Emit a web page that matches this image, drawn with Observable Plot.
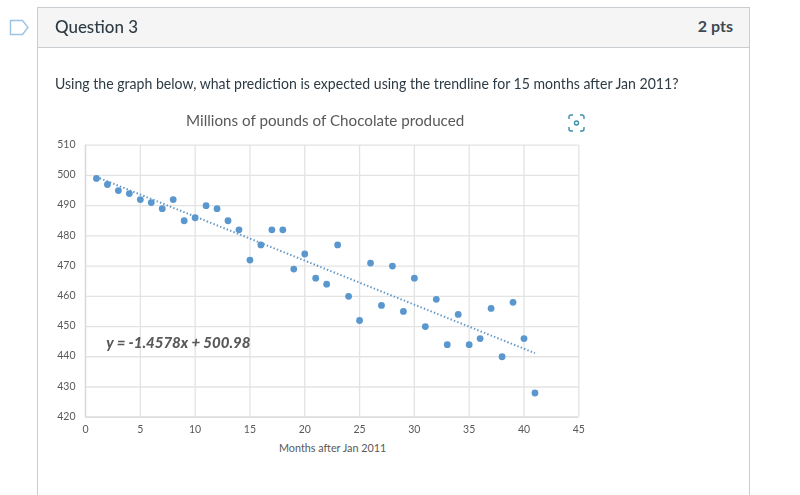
<!DOCTYPE html>
<html><head><meta charset="utf-8">
<script src="https://cdn.jsdelivr.net/npm/d3@7"></script>
<script src="https://cdn.jsdelivr.net/npm/@observablehq/plot@0.6"></script>
<style>
html,body{margin:0;padding:0;background:#fff;overflow:hidden}
body{width:800px;height:495px;position:relative;font-family:Lato,sans-serif;color:#2d3b45}
.abs{position:absolute;white-space:nowrap}
.sq{transform-origin:0 50%}
#card{left:37px;top:7px;width:713px;height:488px;border:1px solid #c7cdd1;border-bottom:none;box-sizing:border-box}
#head{left:38px;top:8px;width:711px;height:39px;background:#f5f5f5;border-bottom:1px solid #c7cdd1}
#chart{left:49px;top:129.7px;filter:blur(0.3px)}
#chart svg{display:block;overflow:visible}
</style></head><body>
<svg class="abs" style="left:9px;top:19px" width="21" height="17" viewBox="0 0 21 17"><path d="M1.5 1.5H13.5L19 8.5L13.5 15.5H1.5Z" fill="none" stroke="#9cc3e3" stroke-width="1.4"/></svg>
<div class="abs" id="card"></div>
<div class="abs" id="head"></div>
<div class="abs sq" id="q" style="left:55px;top:15px;font-size:18px;line-height:22px;font-weight:500;color:#2d3b45;transform:scaleX(.94)">Question 3</div>
<div class="abs" id="p" style="right:67px;top:15px;font-size:16px;line-height:22px;font-weight:700;color:#3d4a54">2 pts</div>
<div class="abs sq" id="t" style="left:55px;top:73px;font-size:15.2px;line-height:20px;color:#2d3b45;transform:scaleX(.927)">Using the graph below, what prediction is expected using the trendline for 15 months after Jan 2011?</div>
<div class="abs sq" id="ti" style="left:186px;top:110px;font-size:16px;line-height:20px;color:#595959;transform:scaleX(.95)">Millions of pounds of Chocolate produced</div>
<svg class="abs" style="left:568px;top:114px" width="17" height="18" viewBox="0 0 17 18" fill="none" stroke="#3f8fa8" stroke-width="1.4"><path d="M1 5V3Q1 1 3 1H5M12 1H14Q16 1 16 3V5M1 13V15Q1 17 3 17H5M12 17H14Q16 17 16 15V13"/><circle cx="8.5" cy="9" r="2"/></svg>
<div class="abs" id="chart"></div>
<div class="abs" id="xl" style="left:279px;top:441px;font-size:10.8px;line-height:14px;color:#595959">Months after Jan 2011</div>
<script>
const months = d3.range(1, 42);
const pounds = [499,497,495,494,492,491,489,492,485,486,490,489,485,482,472,477,482,482,469,474,466,464,477,460,452,471,457,470,455,466,450,459,444,454,444,446,456,440,458,446,428];
const trendMonths = [1, 41];
const trendPounds = [499.5, 441.2];
const xTicks = [0,5,10,15,20,25,30,35,40,45];
const yTicks = [420,430,440,450,460,470,480,490,500,510];
const equation = "y = -1.4578x + 500.98";
const points = months.map((m,i)=>({m,v:pounds[i]}));
const trend = trendMonths.map((m,i)=>({m,v:trendPounds[i]}));
const grey = "#595959";
const chart = Plot.plot({
  width: 540, height: 330,
  marginLeft: 36, marginRight: 10.7, marginTop: 14.7, marginBottom: 43.3,
  style: {background:"transparent", fontFamily:"Lato, sans-serif"},
  x: {domain:[0,45]},
  y: {domain:[420,510]},
  marks: [
    Plot.gridX(xTicks,{stroke:"#e3e3e3",strokeOpacity:1,strokeWidth:1.3}),
    Plot.gridY(yTicks,{stroke:"#e3e3e3",strokeOpacity:1,strokeWidth:1.3}),
    Plot.ruleX([0],{stroke:"#d9d9d9",strokeWidth:1.3}),
    Plot.ruleY([420],{stroke:"#d9d9d9",strokeWidth:1.3}),
    Plot.axisX({ticks:xTicks,tickSize:0,tickPadding:8,fontSize:10.5,fill:grey,label:null,tickFormat:d=>d}),
    Plot.axisY({ticks:yTicks,tickSize:0,tickPadding:10,dy:-0.7,fontSize:10.5,fill:grey,label:null,tickFormat:d=>d}),
    Plot.line(trend,{x:"m",y:"v",stroke:"#5f97c8",strokeWidth:2,strokeDasharray:"1.4,2.2",strokeLinecap:"butt",strokeLinejoin:"miter"}),
    Plot.dot(points,{x:"m",y:"v",r:3.4,fill:"#5b97cf",stroke:"none"}),
    Plot.text([equation],{x:1.9,y:444.5,text:d=>d,textAnchor:"start",fontSize:15,fontWeight:"900",fontStyle:"italic",fill:"#595959"})
  ]
});
document.getElementById("chart").appendChild(chart);
</script>
</body></html>
